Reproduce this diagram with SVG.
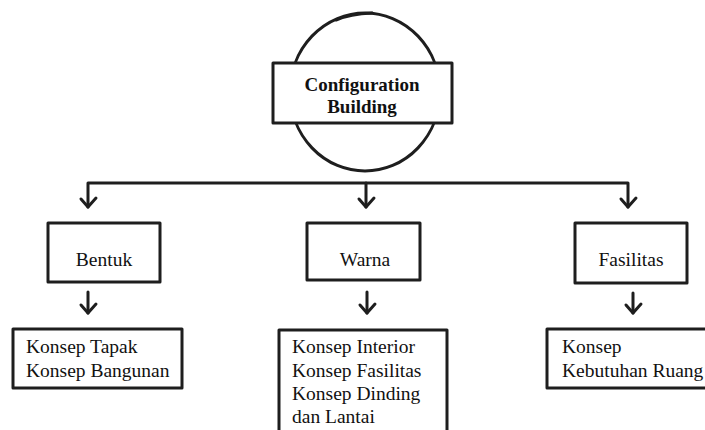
<svg xmlns="http://www.w3.org/2000/svg" width="705" height="430" viewBox="0 0 705 430">
<style>
.box{fill:#fff;stroke:#1e1e1e;stroke-width:3;stroke-linejoin:round}
.ln{fill:none;stroke:#1e1e1e;stroke-width:3;stroke-linecap:round;stroke-linejoin:round}
.t{font-family:"Liberation Serif","Times New Roman",serif;font-size:19.5px;fill:#111}
.c{text-anchor:middle}
.b{font-weight:bold;font-size:19px}
</style>
<rect width="705" height="430" fill="#fff"/>
<g id="connectors">
<path class="ln" d="M88 207 V183 H628 V207"/>
<path class="ln" d="M366 183 V207"/>
<path class="ln" d="M81 199 L88 207 L96 198"/>
<path class="ln" d="M359 199 L366 207 L374 198"/>
<path class="ln" d="M621 199 L628 207 L636 198"/>
<path class="ln" d="M88 292 V313"/>
<path class="ln" d="M81 305 L88 313 L96 304"/>
<path class="ln" d="M367 292 V313"/>
<path class="ln" d="M360 305 L367 313 L375 304"/>
<path class="ln" d="M633 293 V313"/>
<path class="ln" d="M626 305 L633 313 L641 304"/>
</g>
<g id="root">
<ellipse class="ln" cx="365" cy="92" rx="75" ry="79"/>
<path class="ln" d="M336 20 Q350 14 372 13" stroke-width="4"/>
<rect class="box" x="273" y="63" width="179" height="60"/>
<text class="t c b" x="362" y="91">Configuration</text>
<text class="t c b" x="362" y="113">Building</text>
</g>
<g id="bentuk">
<rect class="box" x="48" y="223" width="112" height="59"/>
<text class="t c" x="104" y="266">Bentuk</text>
</g>
<g id="warna">
<rect class="box" x="307" y="223" width="113" height="57"/>
<text class="t c" x="365" y="266">Warna</text>
</g>
<g id="fasilitas">
<rect class="box" x="575" y="223" width="112" height="60"/>
<text class="t c" x="631" y="266">Fasilitas</text>
</g>
<g id="bentuk-detail">
<rect class="box" x="13" y="329" width="169" height="59"/>
<text class="t" x="26" y="353">Konsep Tapak</text>
<text class="t" x="26" y="377">Konsep Bangunan</text>
</g>
<g id="warna-detail">
<rect class="box" x="279" y="330" width="168" height="110"/>
<text class="t" x="292" y="353">Konsep Interior</text>
<text class="t" x="292" y="377">Konsep Fasilitas</text>
<text class="t" x="292" y="400">Konsep Dinding</text>
<text class="t" x="292" y="423">dan Lantai</text>
</g>
<g id="fasilitas-detail">
<rect class="box" x="547" y="329" width="165" height="59"/>
<text class="t" x="562" y="353">Konsep</text>
<text class="t" x="562" y="377">Kebutuhan Ruang</text>
</g>
</svg>
